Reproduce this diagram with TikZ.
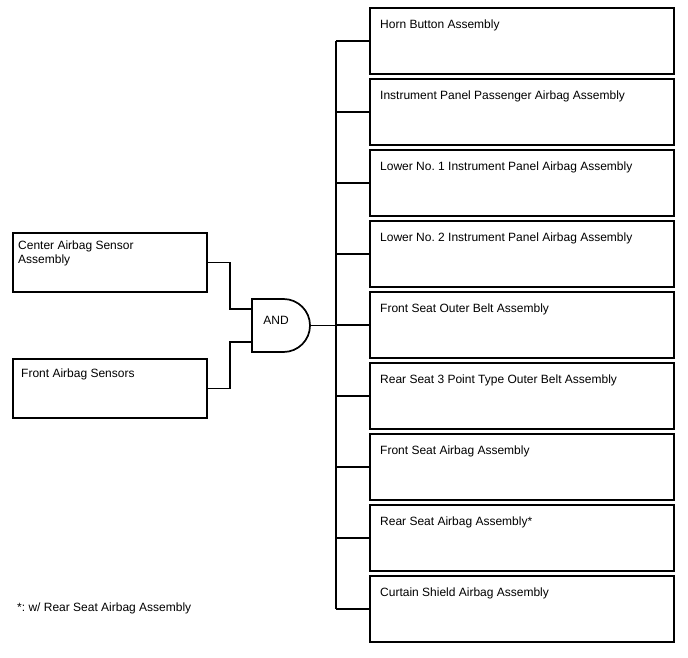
\documentclass[tikz,border=0pt]{standalone}
\usepackage{fontspec}
\setmainfont{Liberation Sans}
\usetikzlibrary{positioning}
\frenchspacing

\begin{document}
\begin{tikzpicture}[
      x=1pt, y=-1pt,
      box/.style={draw, line width=2pt, inner sep=0pt, outer sep=0pt, anchor=north west},
      rbox/.style={box, minimum width=304pt, minimum height=66pt},
      lbox/.style={box, minimum width=194pt, minimum height=58pt},
      txt/.style={font=\fontsize{12}{14}\selectfont, align=left, inner sep=0pt},
      wire/.style={line width=1.3pt},
      gate/.style={minimum width=58pt, minimum height=53pt, inner sep=0pt, outer sep=0pt}
    ]
      \useasboundingbox (0,0) rectangle (688,658);

      % inputs
      \node[lbox, minimum height=59pt] (ctr) at (13,233) {};
      \node[txt, below right=8pt and 5pt of ctr.north west] (ctrtxt) {Center Airbag Sensor\\Assembly};
      \node[lbox, minimum height=59pt] (frt) at (13,359) {};
      \node[txt, below right=10pt and 8pt of frt.north west] (frttxt) {Front Airbag Sensors};

      % AND gate
      \node[gate] (and) at (281,325.5) {};
      \draw[line width=1.7pt] (and.north west) -- ++(31.5,0)
        arc[start angle=90, end angle=-90, radius=26.5pt] -- (and.south west) -- cycle;
      \node[txt] (andtxt) at (276,320) {AND};

      % outputs
      \foreach \t [count=\i] in {Horn Button Assembly,
          Instrument Panel Passenger Airbag Assembly,
          Lower No. 1 Instrument Panel Airbag Assembly,
          Lower No. 2 Instrument Panel Airbag Assembly,
          Front Seat Outer Belt Assembly,
          Rear Seat 3 Point Type Outer Belt Assembly,
          Front Seat Airbag Assembly,
          Rear Seat Airbag Assembly*,
          Curtain Shield Airbag Assembly} {
        \node[rbox] (r\i) at (370,{8+71*(\i-1)}) {};
        \node[txt, below right=12pt and 10pt of r\i.north west] (t\i) {\t};
      }

      \coordinate (bus) at (336,0);

      % wires
      \draw[wire] (ctr.east) -- ++(23,0) |- ([yshift=16.5pt]and.west);
      \draw[wire] (frt.east) -- ++(23,0) |- ([yshift=-16.5pt]and.west);
      \draw[wire] (and.east) -- (and.east -| bus);
      \draw[wire] (r1.west -| bus) -- (r9.west -| bus);
      \foreach \i in {1,...,9}
        \draw[wire] (r\i.west -| bus) -- (r\i.west);

      \node[txt, anchor=north west] (note) at (17,603) {*: w/ Rear Seat Airbag Assembly};
    \end{tikzpicture}
\end{document}
